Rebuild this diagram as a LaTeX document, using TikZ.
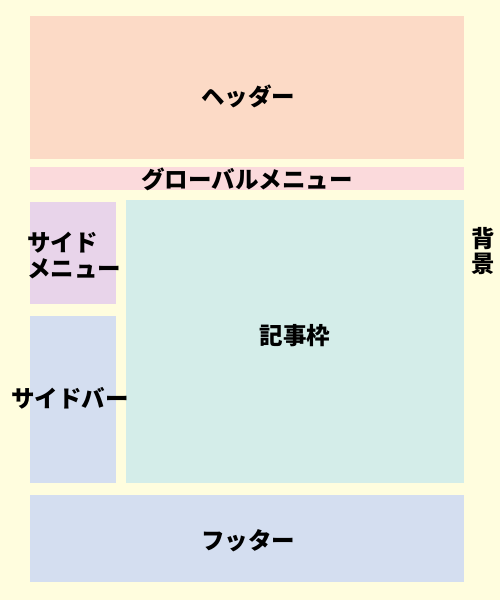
\documentclass[tikz,border=0pt]{standalone}
\usepackage{fontspec}
\newfontfamily\jp{Noto Sans CJK JP}[BoldFont={Noto Sans CJK JP Black}]
\definecolor{bgc}{RGB}{255,253,222}
\definecolor{hdr}{RGB}{252,218,198}
\definecolor{gmenu}{RGB}{251,218,220}
\definecolor{smenu}{RGB}{232,212,234}
\definecolor{art}{RGB}{212,237,233}
\definecolor{sbar}{RGB}{212,222,240}
\tikzset{
  area/.style={inner sep=0pt, outer sep=0pt, draw=none},
  lbl/.style={font=\jp\bfseries\fontsize{23.5}{25}\selectfont, inner sep=0pt, text=black}
}
\begin{document}
\begin{tikzpicture}[x=1pt,y=-1pt]
\fill[bgc] (0,0) rectangle (500,600);
\useasboundingbox (0,0) rectangle (500,600);
\fill[hdr] (30,16) rectangle (464,159);
\fill[gmenu] (30,167) rectangle (464,190);
\fill[smenu] (30,202) rectangle (116,304);
\fill[art] (126,200) rectangle (464,483);
\fill[sbar] (30,316) rectangle (116,483);
\fill[sbar] (30,495) rectangle (464,582);
\node[lbl] (header) at (248,96) {ヘッダー};
\node[lbl] (gm) at (247,179) {グローバルメニュー};
\node[lbl, anchor=west] (sm1) at (27,243) {サイド};
\node[lbl, anchor=west] (sm2) at (27,269) {メニュー};
\node[lbl] (bg1) at (483,239) {背};
\node[lbl] (bg2) at (483,264) {景};
\node[lbl] (article) at (295,336) {記事枠};
\node[lbl] (sidebar) at (70,398) {サイドバー};
\node[lbl] (footer) at (248,541) {フッター};
\end{tikzpicture}
\end{document}
